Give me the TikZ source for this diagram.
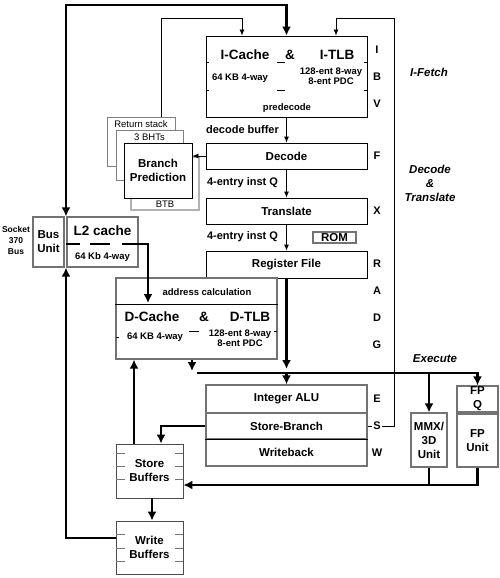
\documentclass[tikz,border=0pt]{standalone}
\usepackage{fontspec}
\setmainfont{Liberation Sans}
\usetikzlibrary{arrows.meta}

\begin{document}
\begin{tikzpicture}[x=1pt,y=-1pt]
	\tikzset{boite/.style={draw=black, line width=0.8pt, fill=white, inner sep=0pt, align=center, font=\bfseries\fontsize{11.5}{14}\selectfont},
		boitegrise/.style={boite, draw=black!55, line width=1.2pt},
		texte/.style={inner sep=0pt, align=center, font=\bfseries\fontsize{9.5}{10.5}\selectfont},
		maigre/.style={inner sep=0pt, font=\fontsize{9.5}{11}\selectfont},
		titre/.style={inner sep=0pt, font=\bfseries\fontsize{13.5}{16}\selectfont},
		etiq/.style={inner sep=0pt, font=\bfseries\fontsize{11}{14}\selectfont},
		etage/.style={inner sep=1pt, fill=white, font=\bfseries\fontsize{11}{13}\selectfont},
		phase/.style={inner sep=0pt, align=center, font=\bfseries\itshape\fontsize{11.5}{14}\selectfont},
		fine/.style={line width=0.8pt, >={Latex[length=6pt,width=5pt]}},
		epaisse/.style={line width=2.5pt, >={Latex[length=9pt,width=9pt]}},
		trait/.style={line width=1pt, draw=black!55}};

	\useasboundingbox (0,0) rectangle (500,578);

	\node[boite, minimum width=161, minimum height=81] (icache)   at (286.5,  76.5) {};
	\node[boite, minimum width=161, minimum height=26] (decode)   at (286.5, 156  ) {Decode};
	\node[boite, minimum width=161, minimum height=26] (translate) at (286.5, 211 ) {Translate};
	\node[boite, minimum width=161, minimum height=27] (regfile)  at (286.5, 264.5) {Register File};
	\node[boitegrise, minimum width=43,  minimum height=11] (rom) at (334.5, 237.5) {ROM};
	\node[boitegrise, minimum width=161, minimum height=81] (dcache) at (196.5, 318.5) {};

	\node[boitegrise, minimum width=68, minimum height=49, draw=black!50, line width=0.8pt] (retstack) at (141, 141.5) {};
	\node[boitegrise, minimum width=67, minimum height=50, draw=black!50, line width=0.8pt] (bht)      at (149.5, 155) {};
	\node[boitegrise, minimum width=68, minimum height=53, draw=black!30] (btb) at (165, 183.5) {};
	\node[boite, minimum width=68, minimum height=55] (bp) at (158, 170.5) {Branch\\Prediction};

	\node[boitegrise, minimum width=31, minimum height=50] (busunit) at ( 48.5, 242) {Bus\\Unit};
	\node[boitegrise, minimum width=71, minimum height=50] (l2)      at (102.5, 242) {};

	\node[boitegrise, minimum width=161, minimum height=28] (alu) at (286.5, 399  ) {Integer ALU};
	\node[boitegrise, minimum width=161, minimum height=26] (sb)  at (286.5, 426  ) {Store-Branch};
	\node[boitegrise, minimum width=161, minimum height=27] (wb)  at (286.5, 452.5) {Writeback};
	\draw[line width=1pt] (sb.south west) -- (sb.south east);

	\node[boitegrise, minimum width=36, minimum height=54] (mmx) at (429,   440  ) {MMX/\\3D\\Unit};
	\node[boitegrise, minimum width=41, minimum height=26] (fpq) at (477.5, 399  ) {FP\\Q};
	\node[boitegrise, minimum width=41, minimum height=53] (fpu) at (477.5, 440.5) {FP\\Unit};

	\node[boite, minimum width=67, minimum height=54, draw=black!70] (storebuf) at (149.5, 471  ) {Store\\Buffers};
	\node[boite, minimum width=67, minimum height=53, draw=black!70] (writebuf) at (149.5, 547.5) {Write\\Buffers};

	\node[titre] (icachet) at (245,  55) {I-Cache};
	\node[titre] (iet)     at (290,  55) {\&};
	\node[titre] (itlbt)   at (337,  55) {I-TLB};
	\node[texte] (icaches) at (240,  78) {64 KB 4-way};
	\node[texte] (itlbs)   at (331,  76) {128-ent 8-way\\8-ent PDC};
	\node[texte] (predec)  at (287, 108) {predecode};

	\node[titre] (dcachet) at (152, 317) {D-Cache};
	\node[titre] (det)     at (204, 317) {\&};
	\node[titre] (dtlbt)   at (250, 317) {D-TLB};
	\node[texte] (adrcalc) at (207, 292) {address calculation};
	\node[texte] (dcaches) at (155, 337) {64 KB 4-way};
	\node[texte] (dtlbs)   at (240, 338) {128-ent 8-way\\8-ent PDC};

	\node[titre] (l2t) at (102.5, 231) {L2 cache};
	\node[texte] (l2s) at (102.5, 257) {64 Kb 4-way};

	\node[maigre] (retstackt) at (141,   124) {Return stack};
	\node[maigre] (bhtt)      at (149.5, 137) {3 BHTs};
	\node[maigre] (btbt)      at (165,   204) {BTB};

	\node[etiq] (decbuf) at (242.5, 130) {decode buffer};
	\node[etiq] (instq1) at (242.5, 183) {4-entry inst Q};
	\node[etiq] (instq2) at (242.5, 237) {4-entry inst Q};

	\node[inner sep=0pt, align=center, font=\bfseries\fontsize{8.5}{11}\selectfont] (socket) at (16, 240) {Socket\\370\\Bus};

	\node[phase] (ifetch)  at (429,  72) {I-Fetch};
	\node[phase] (dectr)   at (430, 183) {Decode\\\&\\Translate};
	\node[phase] (execute) at (435, 359) {Execute};

	\foreach \y in {62,90} {
		\draw[line width=0.8pt] (206,\y) -- (209,\y);
		\draw[line width=0.8pt] (364,\y) -- (367,\y);
		\draw[line width=0.8pt] (277,\y) -- (285,\y);
	}
	\draw[line width=0.8pt] (dcache.west |- 0,304) -- (dcache.east |- 0,304);
	\draw[line width=0.8pt] (116,337) -- (119,337);
	\draw[line width=0.8pt] (189,331) -- (199,331);
	\draw[line width=0.8pt] (274,331) -- (277,331);
	\foreach \y in {453,466,479,534,548,561} {
		\draw[trait] (116,\y) -- (125,\y);
		\draw[trait] (175,\y) -- (183,\y);
	}

	\draw[fine, ->] (icache.south) -- (decode.north);
	\draw[fine, ->] (decode.south) -- (translate.north);
	\draw[fine, ->] (translate.south) -- (regfile.north);
	\draw[fine, ->] (decode.west) -- (bp.east |- decode.west);
	\draw[fine, ->] (retstack.north -| 161,0) |- (242,18) -- (icache.north -| 242,0);
	\draw[fine, ->] (sb.east) -- (394,426) -- (394,18) -| (icache.north -| 336,0);

	\draw[epaisse, <->] (busunit.north -| 66,0) |- (286.5,5) -- (icache.north);
	\draw[epaisse, dash pattern=on 14pt off 10pt on 20pt off 10pt] (l2.west |- 0,244) -- (112,244);
	\draw[epaisse, ->] (122,244) -| (148,303);
	\draw[epaisse, ->] (regfile.south) -- (286.5,369);
	\draw[epaisse, ->] (dcache.south -| 192,0) -- (192,371);
	\draw[epaisse, ->] (197,373) -| (fpq.north);
	\draw[epaisse, ->] (286.5,373) -- (alu.north);
	\draw[epaisse, ->] (mmx.north |- 0,373) -- (mmx.north);
	\draw[epaisse, ->] (sb.west) -| (storebuf.north -| 161,0);
	\draw[epaisse, ->] (storebuf.north -| 134,0) -- (dcache.south -| 134,0);
	\draw[epaisse, ->] (storebuf.south -| 152,0) -- (writebuf.north -| 152,0);
	\draw[epaisse] (mmx.south) -- (mmx.south |- 0,485);
	\draw[epaisse, ->] (fpu.south) |- (storebuf.east |- 0,485);
	\draw[epaisse, ->] (writebuf.west |- 0,538) -| (busunit.south -| 66,0);

	\foreach \l/\y in {I/50,B/77,V/104,F/156,X/211,R/264,A/291,D/318,G/345,E/399,S/426,W/453}
		\node[etage] (st\l) at (377,\y) {\l};

\end{tikzpicture}
\end{document}
